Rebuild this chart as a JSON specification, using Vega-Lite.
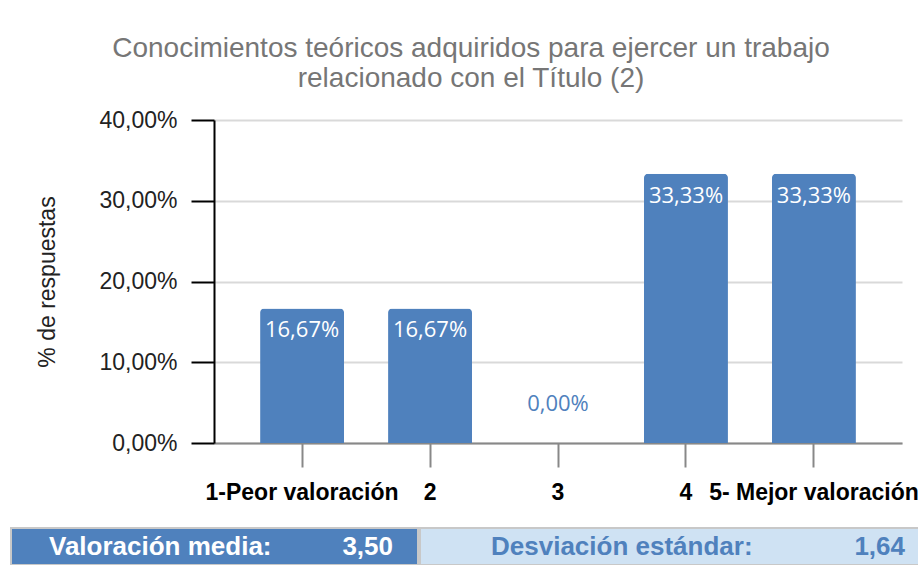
{
  "$schema": "https://vega.github.io/schema/vega-lite/v6.json",
  "background": "white",
  "padding": {"left": 10, "top": 35, "right": 0, "bottom": 0},
  "config": {
    "locale": {"number": {"decimal": ",", "thousands": ".", "grouping": [3], "currency": ["", " €"]}},
    "view": {"stroke": null},
    "font": "Liberation Sans"
  },
  "title": {
    "text": ["Conocimientos teóricos  adquiridos para ejercer un trabajo", "relacionado con el Título (2)"],
    "font": "Liberation Sans",
    "fontSize": 28,
    "fontWeight": "normal",
    "color": "#767676",
    "lineHeight": 30,
    "anchor": "middle",
    "offset": 16
  },
  "datasets": {
    "bars": [
      {"cat": "1-Peor valoración", "pct": 0.1667},
      {"cat": "2", "pct": 0.1667},
      {"cat": "3", "pct": 0},
      {"cat": "4", "pct": 0.3333},
      {"cat": "5- Mejor valoración", "pct": 0.3333}
    ],
    "stats": [
      {"stat": "Valoración media:", "value": 3.5},
      {"stat": "Desviación estándar:", "value": 1.64}
    ]
  },
  "spacing": 23,
  "vconcat": [
    {
      "spacing": 24,
      "hconcat": [
        {
          "width": 1,
          "height": 323,
          "data": {"name": "bars"},
          "mark": {"type": "rect", "opacity": 0}
        },
        {
          "width": 688,
          "height": 323,
          "data": {"name": "bars"},
          "encoding": {
            "x": {
              "field": "cat", "type": "nominal", "sort": null,
              "scale": {"paddingInner": 0.344, "paddingOuter": 0.36},
              "axis": {
                "title": null, "labelAngle": 0, "labelFont": "Liberation Sans", "labelFontSize": 23,
                "labelFontWeight": "bold", "labelColor": "#000", "labelPadding": 14, "labelLimit": 0,
                "labelOverlap": false, "labelBound": false, "tickSize": 24, "tickColor": "#888",
                "tickWidth": 2, "domainColor": "#888", "domainWidth": 2
              }
            },
            "y": {
              "field": "pct", "type": "quantitative",
              "scale": {"domain": [0, 0.4]},
              "axis": {
                "title": "% de respuestas", "values": [0, 0.1, 0.2, 0.3, 0.4], "format": ".2%",
                "labelFont": "Liberation Sans", "labelFontSize": 23, "labelColor": "#222", "labelPadding": 14,
                "tickSize": 23, "tickColor": "#000", "tickWidth": 2, "domainColor": "#000", "domainWidth": 2,
                "gridColor": "#d9d9d9", "gridWidth": 2,
                "titleFont": "Liberation Sans", "titleFontSize": 23, "titleFontWeight": "normal",
                "titleColor": "#222", "titlePadding": 39
              }
            }
          },
          "layer": [
            {"mark": {"type": "bar", "color": "#4f81bd", "cornerRadiusTopLeft": 4, "cornerRadiusTopRight": 4}},
            {
              "transform": [{"filter": "datum.pct > 0"}],
              "mark": {"type": "text", "color": "white", "baseline": "top", "dy": 12, "font": "Open Sans", "fontSize": 22},
              "encoding": {"text": {"field": "pct", "type": "quantitative", "format": ".2%"}}
            },
            {
              "transform": [{"filter": "datum.pct == 0"}],
              "mark": {"type": "text", "color": "#4f81bd", "baseline": "bottom", "dy": -27, "font": "Open Sans", "fontSize": 22},
              "encoding": {"text": {"field": "pct", "type": "quantitative", "format": ".2%"}}
            }
          ]
        }
      ]
    },
    {
      "spacing": 0,
      "hconcat": [
        {
          "width": 407, "height": 37,
          "view": {"fill": "#4f81bd", "stroke": "#c8c8c8", "strokeWidth": 2},
          "data": {"name": "stats"},
          "transform": [{"filter": "datum.stat == 'Valoración media:'"}],
          "layer": [
            {"mark": {"type": "text", "align": "left", "baseline": "middle", "dx": 38, "font": "Liberation Sans", "fontSize": 26, "fontWeight": "bold", "color": "white"},
             "encoding": {
               "x": {"field": "stat", "type": "nominal", "scale": {"type": "point", "padding": 0, "align": 0}, "axis": null},
               "text": {"field": "stat"}}},
            {"mark": {"type": "text", "align": "right", "baseline": "middle", "dx": -25, "font": "Liberation Sans", "fontSize": 26, "fontWeight": "bold", "color": "white"},
             "encoding": {
               "x": {"field": "stat", "type": "nominal", "scale": {"type": "point", "padding": 0, "align": 1}, "axis": null},
               "text": {"field": "value", "type": "quantitative", "format": ".2f"}}}
          ],
          "resolve": {"scale": {"x": "independent"}}
        },
        {
          "width": 511, "height": 37,
          "view": {"fill": "#cfe2f3", "stroke": "#c8c8c8", "strokeWidth": 2},
          "data": {"name": "stats"},
          "transform": [{"filter": "datum.stat == 'Desviación estándar:'"}],
          "layer": [
            {"mark": {"type": "text", "align": "left", "baseline": "middle", "dx": 71, "font": "Liberation Sans", "fontSize": 26, "fontWeight": "bold", "color": "#4f81bd"},
             "encoding": {
               "x": {"field": "stat", "type": "nominal", "scale": {"type": "point", "padding": 0, "align": 0}, "axis": null},
               "text": {"field": "stat"}}},
            {"mark": {"type": "text", "align": "right", "baseline": "middle", "dx": -26, "font": "Liberation Sans", "fontSize": 26, "fontWeight": "bold", "color": "#4f81bd"},
             "encoding": {
               "x": {"field": "stat", "type": "nominal", "scale": {"type": "point", "padding": 0, "align": 1}, "axis": null},
               "text": {"field": "value", "type": "quantitative", "format": ".2f"}}}
          ],
          "resolve": {"scale": {"x": "independent"}}
        }
      ]
    }
  ]
}
